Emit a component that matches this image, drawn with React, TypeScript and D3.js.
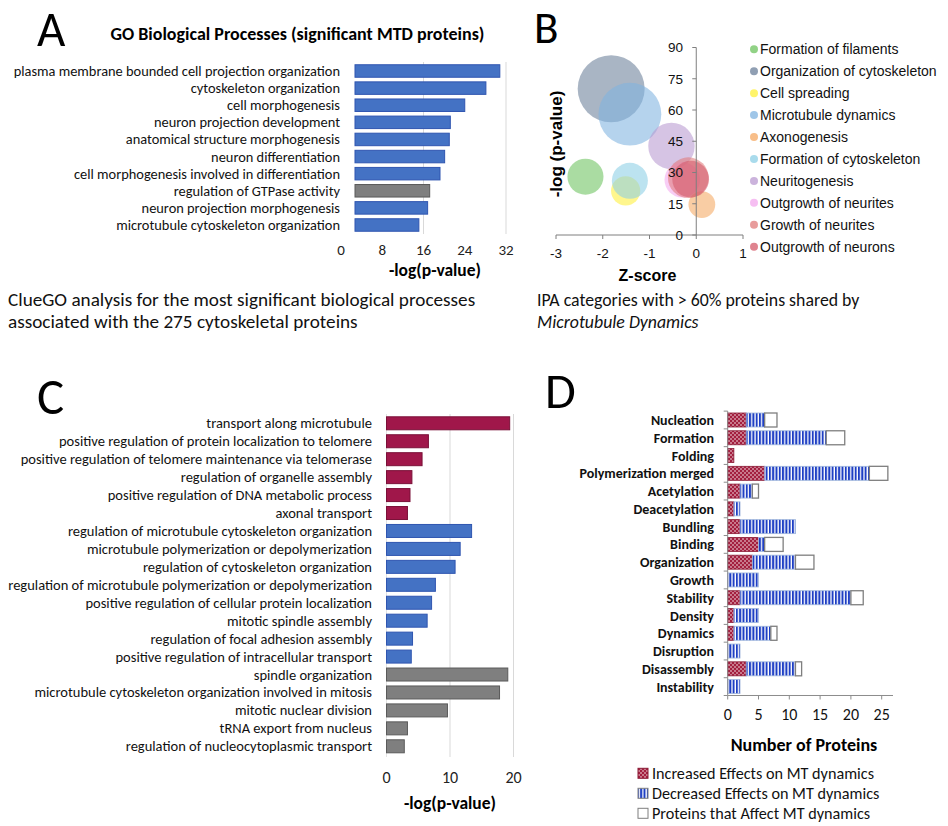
import React from 'react';
import * as d3 from 'd3';

const CAL = "Carlito, Lato, 'Open Sans', sans-serif";
const ARI = "'Liberation Sans', Arial, sans-serif";

// ---------- Panel A data ----------
const goTermsA = [
  'plasma membrane bounded cell projection organization',
  'cytoskeleton organization',
  'cell morphogenesis',
  'neuron projection development',
  'anatomical structure morphogenesis',
  'neuron differentiation',
  'cell morphogenesis involved in differentiation',
  'regulation of GTPase activity',
  'neuron projection morphogenesis',
  'microtubule cytoskeleton organization',
];
const goValuesA = [30.8, 28.1, 24.0, 21.2, 21.0, 20.1, 19.2, 17.2, 16.8, 15.1];
const goGroupsA = ['blue', 'blue', 'blue', 'blue', 'blue', 'blue', 'blue', 'gray', 'blue', 'blue'];
const ticksA = [0, 8, 16, 24, 32];
const gridA = [16, 32];

// ---------- Panel B data ----------
const ipaCategories = [
  'Formation of filaments',
  'Organization of cytoskeleton',
  'Cell spreading',
  'Microtubule dynamics',
  'Axonogenesis',
  'Formation of cytoskeleton',
  'Neuritogenesis',
  'Outgrowth of neurites',
  'Growth of neurites',
  'Outgrowth of neurons',
];
const ipaZ = [-2.37, -1.82, -1.51, -1.42, 0.12, -1.42, -0.53, -0.3, -0.17, -0.12];
const ipaLogP = [28, 70.2, 21.2, 58, 14.6, 26, 42.7, 26.5, 27.5, 26.8];
const ipaSize = [29, 100, 19, 88, 16, 29, 48, 28, 37, 30];
const ipaColors = ['#6cc35e', '#6b7f99', '#fff03a', '#7fb3e0', '#f5a862', '#8ccfe6', '#b99ad0', '#f3a8ee', '#e07b7b', '#d45a6a'];
const ticksBx = [-3, -2, -1, 0, 1];
const ticksBy = [0, 15, 30, 45, 60, 75, 90];

// ---------- Panel C data ----------
const goTermsC = [
  'transport along microtubule',
  'positive regulation of protein localization to telomere',
  'positive regulation of telomere maintenance via telomerase',
  'regulation of organelle assembly',
  'positive regulation of DNA metabolic process',
  'axonal transport',
  'regulation of microtubule cytoskeleton organization',
  'microtubule polymerization or depolymerization',
  'regulation of cytoskeleton organization',
  'regulation of microtubule polymerization or depolymerization',
  'positive regulation of cellular protein localization',
  'mitotic spindle assembly',
  'regulation of focal adhesion assembly',
  'positive regulation of intracellular transport',
  'spindle organization',
  'microtubule cytoskeleton organization involved in mitosis',
  'mitotic nuclear division',
  'tRNA export from nucleus',
  'regulation of nucleocytoplasmic transport',
];
const goValuesC = [19.4, 6.6, 5.6, 4.0, 3.7, 3.3, 13.4, 11.6, 10.8, 7.7, 7.1, 6.4, 4.1, 3.9, 19.1, 17.8, 9.6, 3.3, 2.8];
const goGroupsC = ['red', 'red', 'red', 'red', 'red', 'red', 'blue', 'blue', 'blue', 'blue', 'blue', 'blue', 'blue', 'blue', 'gray', 'gray', 'gray', 'gray', 'gray'];
const ticksC = [0, 10, 20];
const gridC = [10, 20];

// ---------- Panel D data ----------
const mtCategories = [
  'Nucleation', 'Formation', 'Folding', 'Polymerization merged', 'Acetylation', 'Deacetylation',
  'Bundling', 'Binding', 'Organization', 'Growth', 'Stability', 'Density', 'Dynamics',
  'Disruption', 'Disassembly', 'Instability',
];
const mtIncreased = [3, 3, 1, 6, 2, 1, 2, 5, 4, 0, 2, 1, 1, 0, 3, 0];
const mtDecreased = [3, 13, 0, 17, 2, 1, 9, 1, 7, 5, 18, 4, 6, 2, 8, 2];
const mtAffect = [2, 3, 0, 3, 1, 0, 0, 3, 3, 0, 2, 0, 1, 0, 1, 0];
const mtKeys = ['inc', 'dec', 'aff'];
const mtLegend = ['Increased Effects on MT dynamics', 'Decreased Effects on MT dynamics', 'Proteins that Affect MT dynamics'];
const ticksD = [0, 5, 10, 15, 20, 25];

const barFill: Record<string, string> = { blue: '#4472c4', gray: '#7f7f7f', red: '#a0174a' };
const barStroke: Record<string, string> = { blue: '#2f55b0', gray: '#5a5a5a', red: '#7a1038' };

export default function App() {
  // Panel A scales
  const xA = d3.scaleLinear().domain([0, 32]).range([341, 506]);
  const yA = d3.scalePoint<string>().domain(goTermsA).range([71, 225]);
  const hA = 12.5;
  const baseA = xA(0) + 14;

  // Panel B scales
  const xB = d3.scaleLinear().domain([-3, 1]).range([556, 743]);
  const yB = d3.scaleLinear().domain([0, 90]).range([235, 47.5]);
  const rB = d3.scaleSqrt().domain([0, 100]).range([0, 33.5]);

  // Panel C scales
  const xC = d3.scaleLinear().domain([0, 20]).range([386.5, 513.5]);
  const yC = d3.scalePoint<string>().domain(goTermsC).range([423.3, 746.3]);
  const hC = 13;

  // Panel D scales
  const xD = d3.scaleLinear().domain([0, 25]).range([727.7, 881.7]);
  const yD = d3.scalePoint<string>().domain(mtCategories).range([420, 686.6]);
  const stepD = yD.step();
  const hD = 14;
  const rowsD = mtCategories.map((c, i) => ({ cat: c, inc: mtIncreased[i], dec: mtDecreased[i], aff: mtAffect[i] }));
  const stackD = d3.stack<any>().keys(mtKeys)(rowsD);
  const fillD: Record<string, string> = { inc: 'url(#dots)', dec: 'url(#stripes)', aff: '#ffffff' };
  const strokeD: Record<string, string> = { inc: '#8a1a35', dec: '#9fb6dc', aff: '#7f7f7f' };
  const yDtop = yD(mtCategories[0])! - stepD / 2;
  const yDbot = yD(mtCategories[mtCategories.length - 1])! + stepD / 2;

  return (
    <svg width={948} height={826} style={{ position: 'absolute', left: 0, top: 0, background: '#fff' }}>
      <defs>
        <pattern id="dots" patternUnits="userSpaceOnUse" width={4} height={4}>
          <rect width={4} height={4} fill="#a31f3f" />
          <circle cx={1} cy={1} r={0.75} fill="#ffffff" />
          <circle cx={3} cy={3} r={0.75} fill="#ffffff" />
        </pattern>
        <pattern id="stripes" patternUnits="userSpaceOnUse" width={3.3} height={10}>
          <rect width={3.3} height={10} fill="#ffffff" />
          <rect width={2} height={10} fill="#1e3fc4" />
        </pattern>
      </defs>
      <rect width={948} height={826} fill="#fff" />

      {/* ================= Panel A ================= */}
      <text x={37} y={46} fontFamily={CAL} fontSize={49} fill="#000">A</text>
      <text x={297.5} y={40} textAnchor="middle" fontFamily={CAL} fontSize={18} fontWeight="bold">
        GO Biological Processes (significant MTD proteins)
      </text>
      {gridA.map((t) => (
        <line key={t} x1={xA(t)} x2={xA(t)} y1={62} y2={234} stroke="#d9d9d9" strokeWidth={1} />
      ))}
      {goTermsA.map((t, i) => (
        <g key={t}>
          <rect
            x={baseA}
            y={yA(t)! - hA / 2}
            width={xA(goValuesA[i]) - baseA}
            height={hA}
            fill={barFill[goGroupsA[i]]}
            stroke={barStroke[goGroupsA[i]]}
            strokeWidth={1}
          />
          <text x={340} y={yA(t)! + 5} textAnchor="end" fontFamily={CAL} fontSize={14.4} fill="#111">
            {t}
          </text>
        </g>
      ))}
      {ticksA.map((t) => (
        <text key={t} x={xA(t)} y={255} textAnchor="middle" fontFamily={CAL} fontSize={15} fill="#222">
          {t}
        </text>
      ))}
      <text x={435} y={276} textAnchor="middle" fontFamily={CAL} fontSize={17.5} fontWeight="bold">
        -log(p-value)
      </text>
      <text x={8} y={306} fontFamily={CAL} fontSize={19.2} fill="#111">
        ClueGO analysis for the most significant biological processes
      </text>
      <text x={8} y={328} fontFamily={CAL} fontSize={19.2} fill="#111">
        associated with the 275 cytoskeletal proteins
      </text>

      {/* ================= Panel B ================= */}
      <text x={534} y={43} fontFamily={CAL} fontSize={45} fill="#000">B</text>
      {ipaCategories.map((c, i) => (
        <circle key={c} cx={xB(ipaZ[i])} cy={yB(ipaLogP[i])} r={rB(ipaSize[i])} fill={ipaColors[i]} fillOpacity={0.58} />
      ))}
      {/* axes */}
      <line x1={xB(-3)} x2={xB(1)} y1={yB(0)} y2={yB(0)} stroke="#7f7f7f" strokeWidth={1} />
      {ticksBx.map((t) => (
        <line key={t} x1={xB(t)} x2={xB(t)} y1={yB(0)} y2={yB(0) + 4} stroke="#7f7f7f" />
      ))}
      <line x1={xB(0)} x2={xB(0)} y1={yB(0)} y2={yB(90)} stroke="#7f7f7f" strokeWidth={1} />
      {ticksBy.map((t) => (
        <line key={t} x1={xB(0) - 4} x2={xB(0)} y1={yB(t)} y2={yB(t)} stroke="#7f7f7f" />
      ))}
      {ticksBy.map((t) => (
        <text key={t} x={683} y={yB(t) + 4.8} textAnchor="end" fontFamily={ARI} fontSize={13.5} fill="#111">
          {t}
        </text>
      ))}
      {ticksBx.map((t) => (
        <text key={t} x={xB(t)} y={258} textAnchor="middle" fontFamily={ARI} fontSize={13.5} fill="#111">
          {t}
        </text>
      ))}
      <text x={647.5} y={281} textAnchor="middle" fontFamily={ARI} fontSize={16} fontWeight="bold">
        Z-score
      </text>
      <text
        transform="translate(562,144) rotate(-90)"
        textAnchor="middle"
        fontFamily={ARI}
        fontSize={17}
        fontWeight="bold"
      >
        -log (p-value)
      </text>
      {ipaCategories.map((c, i) => (
        <g key={c}>
          <circle cx={754} cy={49.3 + i * 21.93} r={4} fill={ipaColors[i]} fillOpacity={0.75} />
          <text x={760} y={49.3 + i * 21.93 + 5} fontFamily={ARI} fontSize={14} fill="#111">
            {c}
          </text>
        </g>
      ))}
      <text x={537} y={306} fontFamily={CAL} fontSize={17.8} fill="#111">
        IPA categories with &gt; 60% proteins shared by
      </text>
      <text x={537} y={328} fontFamily={CAL} fontSize={17.8} fontStyle="italic" fill="#111">
        Microtubule Dynamics
      </text>

      {/* ================= Panel C ================= */}
      <text x={37} y={414} fontFamily={CAL} fontSize={51} fill="#000">C</text>
      <line x1={xC(0)} x2={xC(0)} y1={414} y2={757} stroke="#e3e3e3" />
      {gridC.map((t) => (
        <line key={t} x1={xC(t)} x2={xC(t)} y1={414} y2={757} stroke="#d9d9d9" />
      ))}
      {goTermsC.map((t, i) => (
        <g key={t}>
          <rect
            x={xC(0)}
            y={yC(t)! - hC / 2}
            width={xC(goValuesC[i]) - xC(0)}
            height={hC}
            fill={barFill[goGroupsC[i]]}
            stroke={barStroke[goGroupsC[i]]}
            strokeWidth={1}
          />
          <text x={372} y={yC(t)! + 5} textAnchor="end" fontFamily={CAL} fontSize={14.5} fill="#111">
            {t}
          </text>
        </g>
      ))}
      {ticksC.map((t) => (
        <text key={t} x={xC(t)} y={783} textAnchor="middle" fontFamily={CAL} fontSize={16} fill="#222">
          {t}
        </text>
      ))}
      <text x={450} y={809} textAnchor="middle" fontFamily={CAL} fontSize={17.5} fontWeight="bold">
        -log(p-value)
      </text>

      {/* ================= Panel D ================= */}
      <text x={545} y={408} fontFamily={CAL} fontSize={50} fill="#000">D</text>
      {stackD.map((layer) => (
        <g key={layer.key}>
          {layer.map((d, i) =>
            d[1] - d[0] > 0 ? (
              <rect
                key={i}
                x={xD(d[0])}
                y={yD(mtCategories[i])! - hD / 2}
                width={xD(d[1]) - xD(d[0])}
                height={hD}
                fill={fillD[layer.key]}
                stroke={strokeD[layer.key]}
                strokeWidth={layer.key === 'aff' ? 1.3 : 0.8}
              />
            ) : null
          )}
        </g>
      ))}
      <line x1={xD(0)} x2={xD(0)} y1={yDtop} y2={yDbot} stroke="#8c8c8c" />
      {mtCategories.concat(['end']).map((c, i) => (
        <line key={c} x1={xD(0) - 4} x2={xD(0)} y1={yDtop + i * stepD} y2={yDtop + i * stepD} stroke="#8c8c8c" />
      ))}
      <line x1={xD(0)} x2={893} y1={yDbot} y2={yDbot} stroke="#8c8c8c" />
      {ticksD.map((t) => (
        <line key={t} x1={xD(t)} x2={xD(t)} y1={yDbot} y2={yDbot + 4} stroke="#8c8c8c" />
      ))}
      {ticksD.map((t) => (
        <text key={t} x={xD(t)} y={720} textAnchor="middle" fontFamily={CAL} fontSize={16} fill="#111">
          {t}
        </text>
      ))}
      {mtCategories.map((c) => (
        <text key={c} x={714} y={yD(c)! + 5} textAnchor="end" fontFamily={CAL} fontSize={14} fontWeight={600} fill="#111">
          {c}
        </text>
      ))}
      <text x={804} y={751} textAnchor="middle" fontFamily={CAL} fontSize={18} fontWeight="bold">
        Number of Proteins
      </text>
      {mtKeys.map((k, i) => (
        <g key={k}>
          <rect x={638} y={773.3 + i * 20 - 5} width={10} height={10} fill={fillD[k]} stroke={strokeD[k] === '#9fb6dc' ? '#7f7f7f' : strokeD[k]} strokeWidth={1} />
          <text x={652} y={773.3 + i * 20 + 5.5} fontFamily={CAL} fontSize={16.2} fill="#111">
            {mtLegend[i]}
          </text>
        </g>
      ))}
    </svg>
  );
}
